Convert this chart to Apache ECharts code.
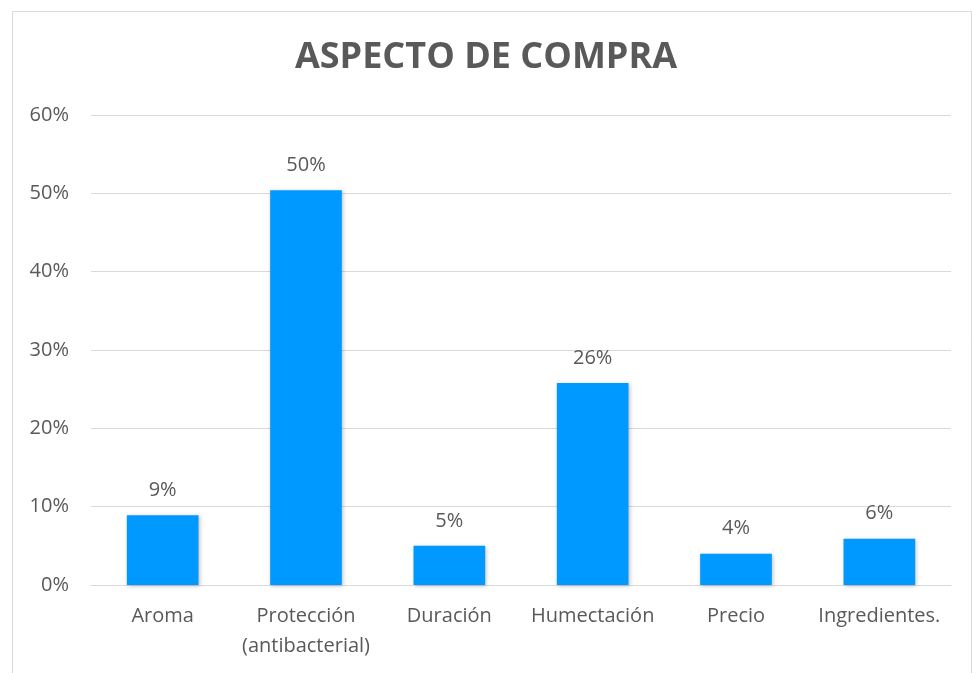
<!DOCTYPE html>
<html><head><meta charset="utf-8">
<script src="https://cdn.jsdelivr.net/npm/echarts@6/dist/echarts.min.js"></script>
<style>html,body{margin:0;padding:0;background:#fff;}#c{width:972px;height:673px;}</style>
</head><body><div id="c"></div>
<script>
const title = "ASPECTO DE COMPRA";
const categories = ["Aroma", "Protección\n(antibacterial)", "Duración", "Humectación", "Precio", "Ingredientes."];
const values = [0.089, 0.504, 0.05, 0.258, 0.04, 0.059];
const yMin = 0, yMax = 0.6, yStep = 0.1;

const chart = echarts.init(document.getElementById('c'));
const txt = '#595959';
chart.setOption({
  animation: false,
  backgroundColor: '#fff',
  graphic: [{type: 'rect', left: 10, top: 9, shape: {width: 959, height: 700}, style: {fill: 'none', stroke: '#d9d9d9', lineWidth: 1}, silent: true}],
  title: {text: title, left: 'center', top: 35, textStyle: {fontFamily: 'Open Sans', fontWeight: 'bold', fontSize: 36, color: txt}},
  grid: {left: 91, right: 21, top: 115, bottom: 88},
  xAxis: {
    type: 'category', data: categories,
    axisLine: {lineStyle: {color: '#d9d9d9', width: 1}},
    axisTick: {show: false},
    axisLabel: {color: txt, fontFamily: 'Open Sans', fontSize: 20, margin: 16, lineHeight: 30, interval: 0}
  },
  yAxis: {
    type: 'value', min: yMin, max: yMax, interval: yStep,
    axisLine: {show: false}, axisTick: {show: false},
    splitLine: {lineStyle: {color: '#d9d9d9', width: 1}},
    axisLabel: {color: txt, fontFamily: 'Open Sans', fontSize: 20, margin: 22,
      formatter: v => Math.round(v * 100) + '%'}
  },
  series: [{
    type: 'bar', data: values, barWidth: '50%',
    itemStyle: {color: '#0099FF', shadowColor: 'rgba(0,0,0,0.25)', shadowBlur: 4, shadowOffsetX: 1, shadowOffsetY: 1},
    label: {show: true, position: 'top', distance: 15, color: txt, fontFamily: 'Open Sans', fontSize: 20,
      formatter: p => Math.round(p.value * 100) + '%'}
  }]
});
</script></body></html>
